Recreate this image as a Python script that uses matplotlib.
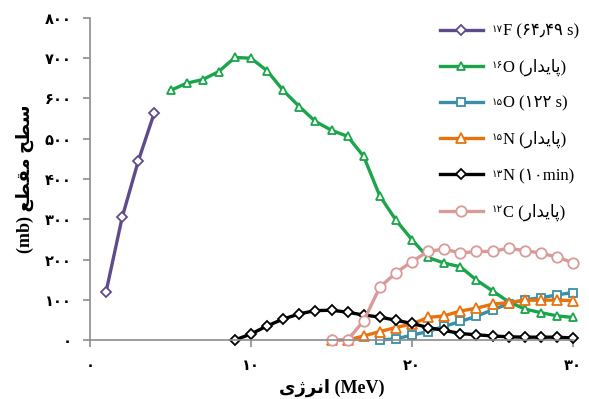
import matplotlib
matplotlib.use("Agg")
import matplotlib.pyplot as plt

# ---- data ----
x_f17 = [1, 2, 3, 4]
y_f17 = [120, 305, 445, 565]

x_o16 = list(range(5, 31))
y_o16 = [620, 638, 647, 667, 702, 700, 669, 620, 580, 543, 521, 506, 456, 358,
         298, 249, 205, 191, 182, 149, 122, 95, 77, 68, 60, 56]

x_o15 = list(range(18, 31))
y_o15 = [0, 3, 12, 21, 34, 46, 59, 75, 90, 100, 105, 112, 118]

x_n15 = list(range(15, 31))
y_n15 = [0, 0, 10, 21, 31, 40, 56, 60, 72, 79, 89, 93, 99, 99, 99, 98]

x_n13 = list(range(9, 31))
y_n13 = [0, 15, 35, 52, 65, 73, 74, 69, 62, 57, 49, 41, 31, 24, 16, 13, 10, 8,
         7, 7, 7, 5]

x_c12 = list(range(15, 31))
y_c12 = [0, 0, 48, 131, 167, 195, 220, 226, 216, 220, 220, 228, 222, 216, 206, 192]

xticks = [0, 10, 20, 30]
xtick_labels = ["۰", "۱۰", "۲۰", "۳۰"]
yticks = [0, 100, 200, 300, 400, 500, 600, 700, 800]
ytick_labels = ["۰", "۱۰۰", "۲۰۰", "۳۰۰", "۴۰۰", "۵۰۰", "۶۰۰", "۷۰۰", "۸۰۰"]

stable = "(\uFEAD\uFE8D\uFEAA\uFBFE\uFE8E\uFB58)"
mass_numbers = ["۱۷", "۱۶", "۱۵", "۱۵", "۱۳", "۱۲"]
labels = [
    "F (۶۴٫۴۹ s)",
    "O " + stable,
    "O (۱۲۲ s)",
    "N " + stable,
    "N (۱۰min)",
    "C " + stable,
]
xlabel = "\uFBFC\uFB8A\uFEAE\uFEE7\uFE8D (MeV)"
ylabel = "(mb) \uFECA\uFEC4\uFED8\uFEE3 \uFEA2\uFEC4\uFEB3"

fam = ['Liberation Serif', 'DejaVu Sans']

fig = plt.figure(figsize=(5.89, 3.99), dpi=100)
ax = fig.add_axes([90/589, 1-340/399, (573-90)/589, (340-18)/399])

series = [
    (x_f17, y_f17, '#5f4b8b', 'D', 5),
    (x_o16, y_o16, '#1aa54b', '^', 5.5),
    (x_o15, y_o15, '#3a8fa6', 's', 5.5),
    (x_n15, y_n15, '#e8730e', '^', 6.5),
    (x_n13, y_n13, '#000000', 'D', 5),
    (x_c12, y_c12, '#d99a98', 'o', 7.5),
]
for (xs, ys, c, m, ms), lab in zip(series, labels):
    ax.plot(xs, ys, color=c, lw=2.4, marker=m, ms=ms, mfc='white',
            mec=c, mew=1.3, label=lab, clip_on=False)

ax.set_xlim(0, 30)
ax.set_ylim(0, 800)
for s in ['top', 'right']:
    ax.spines[s].set_visible(False)
for s in ['left', 'bottom']:
    ax.spines[s].set_color('#8c8c8c')
    ax.spines[s].set_linewidth(1.2)
ax.tick_params(axis='both', color='#8c8c8c', length=5, width=1.2)
ax.set_xticks(xticks)
ax.set_xticklabels(xtick_labels, fontsize=10.5, fontweight='bold', family='DejaVu Sans')
ax.set_yticks(yticks)
ax.set_yticklabels(ytick_labels, fontsize=10.5, fontweight='bold', family='DejaVu Sans')
ax.tick_params(axis='x', pad=8)
ax.tick_params(axis='y', pad=8)

ax.set_xlabel(xlabel, fontsize=13, fontweight='bold', family=fam, labelpad=4)
ax.set_ylabel(ylabel, fontsize=13, fontweight='bold', family=fam, labelpad=8)

leg = ax.legend(loc='upper left', bbox_to_anchor=(0.693, 1.03), frameon=False,
                prop={'family': fam, 'size': 12}, handlelength=2.6,
                labelspacing=1.17, handletextpad=1.2)

fig.canvas.draw()
renderer = fig.canvas.get_renderer()
inv = fig.transFigure.inverted()
for t, sup in zip(leg.get_texts(), mass_numbers):
    bb = t.get_window_extent(renderer)
    x0, y1 = inv.transform((bb.x0 - 0.5, bb.y1 - 1.0))
    fig.text(x0, y1, sup, ha='right', va='top', fontsize=7.5,
             family='DejaVu Sans')

fig.savefig("out.png", dpi=100)
